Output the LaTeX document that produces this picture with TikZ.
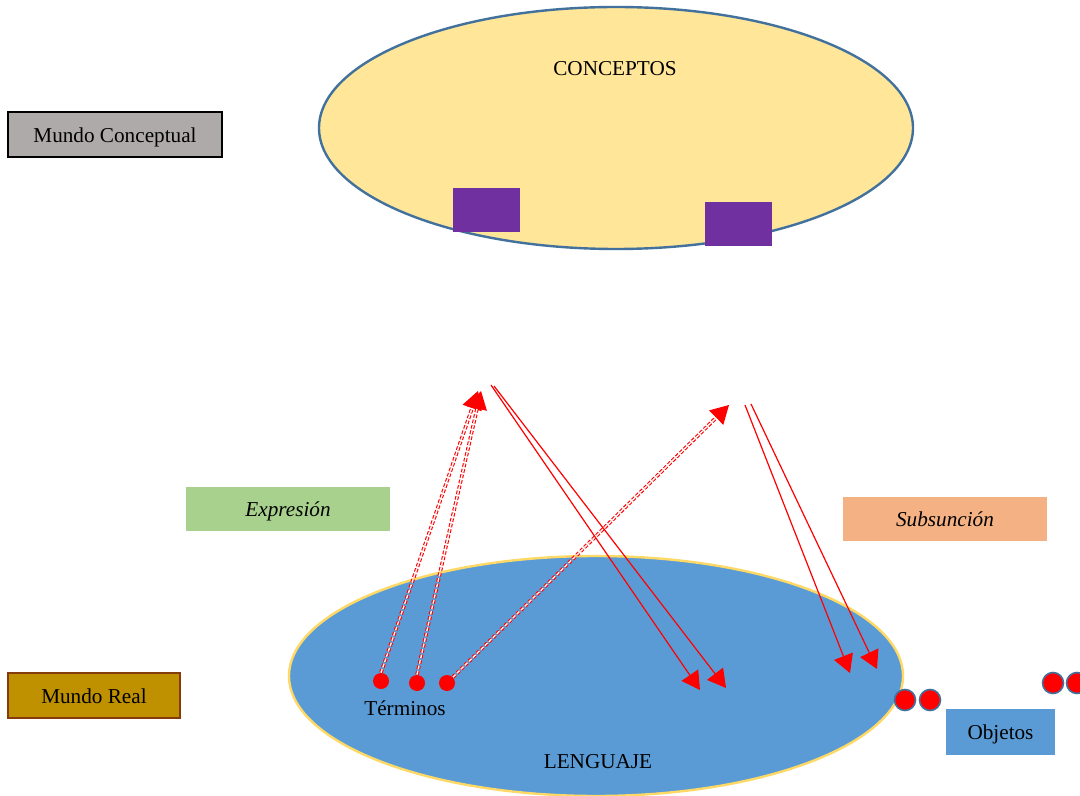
\documentclass[tikz,border=0pt]{standalone}
\usepackage{fontspec}
\setmainfont{Liberation Serif}
\usetikzlibrary{arrows.meta,shapes.geometric}
\definecolor{cyel}{HTML}{FFE699}
\definecolor{cblue}{HTML}{41719C}
\definecolor{cpurp}{HTML}{7030A0}
\definecolor{cgray}{HTML}{AEAAAA}
\definecolor{cgreen}{HTML}{A9D18E}
\definecolor{corange}{HTML}{F4B183}
\definecolor{clblue}{HTML}{5B9BD5}
\definecolor{cgold}{HTML}{FFD966}
\definecolor{cmreal}{HTML}{BF9000}
\definecolor{cbrown}{HTML}{843C0C}
\definecolor{cred}{HTML}{FF0000}
\tikzset{
  lbl/.style={inner sep=0pt, outer sep=0pt},
  boxlbl/.style={rectangle, inner sep=0pt, outer sep=0pt, text=black, text depth=0pt, text height=7.6pt},
  purp/.style={rectangle, fill=cpurp, minimum width=33.5pt, minimum height=22pt, inner sep=0pt},
  rdot/.style={circle, fill=cred, minimum size=8pt, inner sep=0pt},
  odot/.style={circle, fill=cred, draw=cblue, line width=0.8pt, minimum size=10.5pt, inner sep=0pt},
  dashar/.style={draw=cred, line width=0.55pt, double=white, double distance=0.7pt,
     dash pattern=on 1.8pt off 1pt, -{Triangle[length=9pt,width=10pt,fill=cred,sep=0pt]}},
  solar/.style={draw=cred, line width=0.6pt, -{Triangle[length=9pt,width=10pt]}},
}
\begin{document}
\begin{tikzpicture}[x=0.5pt,y=-0.5pt, font=\fontsize{10.6}{12.5}\selectfont]
\useasboundingbox (0,0) rectangle (1080,796);
% top ellipse
\node[ellipse, fill=cyel, draw=cblue, line width=1.2pt, minimum width=297pt, minimum height=121pt, inner sep=0pt] (conc) at (616,128) {};
\node[lbl] (conctxt) at (615,69) {CONCEPTOS};
\node[purp] (p1) at (486.5,210) {};
\node[purp] (p2) at (738.5,224) {};
% bottom ellipse
\node[ellipse, fill=clblue, draw=cgold, line width=1.2pt, minimum width=307pt, minimum height=120pt, inner sep=0pt] (leng) at (596,676) {};
\node[lbl] (lengtxt) at (598,762) {LENGUAJE};
% boxes
\node[boxlbl, fill=cgray, draw=black, line width=1pt, minimum width=107pt, minimum height=22.5pt] (mc) at (115,134.5) {Mundo Conceptual};
\node[boxlbl, fill=cgreen, minimum width=102pt, minimum height=22pt] (expr) at (288,509) {\itshape Expresión};
\node[boxlbl, fill=corange, minimum width=102pt, minimum height=22pt] (subs) at (945,519) {\itshape Subsunción};
\node[boxlbl, fill=cmreal, draw=cbrown, line width=1pt, minimum width=86pt, minimum height=22.5pt] (mr) at (94,695.5) {Mundo Real};
\node[boxlbl, fill=clblue, minimum width=54.5pt, minimum height=23pt] (obj) at (1000.5,732) {Objetos};
% term dots
\node[rdot] (t1) at (381,681) {};
\node[rdot] (t2) at (417,683) {};
\node[rdot] (t3) at (447,683) {};
\node[lbl] (term) at (405,708) {Términos};
% object dots
\node[odot] (o1) at (905,700) {};
\node[odot] (o2) at (930,700) {};
\node[odot] (o3) at (1053,683) {};
\node[odot] (o4) at (1077,683) {};
% arrow end points
\coordinate (e1) at (478,391);
\coordinate (e2) at (481,391);
\coordinate (e3) at (729,405);
\coordinate (s1a) at (491,385);
\coordinate (s1b) at (494,386);
\coordinate (f1a) at (700,690);
\coordinate (f1b) at (726,688);
\coordinate (s2a) at (745,405);
\coordinate (s2b) at (751,404);
\coordinate (f2a) at (850,673);
\coordinate (f2b) at (877,669);
% dashed double arrows
\draw[dashar] (t1.north) -- (e1);
\draw[dashar] (t2.north) -- (e2);
\draw[dashar] (t3.north east) -- (e3);
% solid arrows
\draw[solar] (s1a) -- (f1a);
\draw[solar] (s1b) -- (f1b);
\draw[solar] (s2a) -- (f2a);
\draw[solar] (s2b) -- (f2b);
\end{tikzpicture}
\end{document}
